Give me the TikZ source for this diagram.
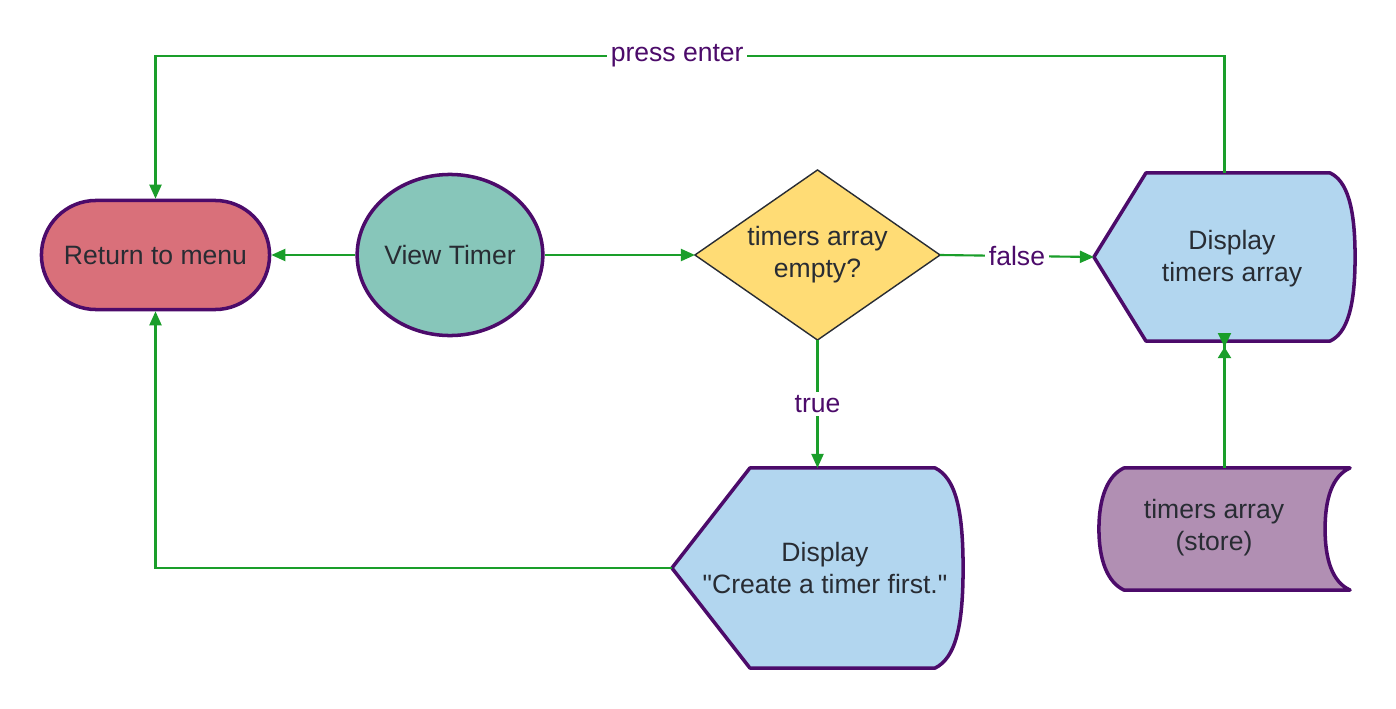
\documentclass[tikz,border=0pt]{standalone}
\usepackage{fontspec}
\setmainfont{Liberation Sans}
\usetikzlibrary{shapes.geometric,arrows.meta,calc,backgrounds}
\definecolor{edgec}{HTML}{4C0B6A}
\definecolor{flowc}{HTML}{1A9E2A}
\definecolor{txtc}{HTML}{282C33}
\definecolor{lblc}{HTML}{4C0B6A}
\definecolor{redf}{HTML}{D9707A}
\definecolor{tealf}{HTML}{87C6BA}
\definecolor{yelf}{HTML}{FFDC75}
\definecolor{bluef}{HTML}{B2D6EF}
\definecolor{purf}{HTML}{B18FB3}
\newcommand\straightdq{\XeTeXglyph\XeTeXcharglyph"22\relax}
\begin{document}
\begin{tikzpicture}[x=0.01cm,y=-0.01cm,
  font=\fontsize{7.55}{9.1}\selectfont,
  outl/.style={draw=edgec,line width=1pt},
  anchorbox/.style={rectangle,inner sep=0pt,outer sep=0pt},
  txtnode/.style={align=center,text=txtc,inner sep=0pt},
  flow/.style={draw=flowc,line width=0.6pt,-{Triangle[length=0.14cm,width=0.12cm]}},
  lbl/.style={fill=white,text=lblc,inner sep=1pt}]
\useasboundingbox (0,0) rectangle (1396,709);

% Return to menu
\node[outl,fill=redf,rectangle,rounded corners=0.545cm,minimum width=2.28cm,minimum height=1.09cm,txtnode] (ret) at (155.5,255) {Return to menu};
% View Timer
\node[outl,fill=tealf,ellipse,minimum width=1.79cm,minimum height=1.61cm,txtnode] (vt) at (450,255) {View Timer};
% decision
\node[anchorbox,minimum width=2.45cm,minimum height=1.7cm] (dia) at (817.5,255) {};
\node[txtnode] (diat) at (817.5,255) {timers array\\empty?};
% Display timers array
\node[anchorbox,minimum width=2.61cm,minimum height=1.68cm] (d1) at (1224.5,257) {};
\node[txtnode] (d1t) at (1232,259) {Display\\timers array};
% Display create
\node[anchorbox,minimum width=2.91cm,minimum height=2.0cm] (d2) at (817.5,568) {};
\node[txtnode] (d2t) at (825,568) {Display\\\straightdq Create a timer first.\straightdq};
% store
\node[anchorbox,minimum width=2.51cm,minimum height=1.22cm] (st) at (1224.5,529) {};
\node[txtnode] (stt) at (1214,528) {timers array\\(store)};

\begin{scope}[on background layer]
  \fill[white] (0,0) rectangle (1396,709);
  \draw[fill=yelf,draw=txtc,line width=0.4pt] (dia.west) -- (dia.north) -- (dia.east) -- (dia.south) -- cycle;
  \draw[outl,fill=bluef,line join=round] (d1.west) -- ($(d1.north west)+(52,0)$) -- ($(d1.north east)+(-25,0)$)
     .. controls ($(d1.north east)+(-8,8)$) and ($(d1.east)+(0,-50)$) .. (d1.east)
     .. controls ($(d1.east)+(0,50)$) and ($(d1.south east)+(-8,-8)$) .. ($(d1.south east)+(-25,0)$)
     -- ($(d1.south west)+(52,0)$) -- cycle;
  \draw[outl,fill=bluef,line join=round] (d2.west) -- ($(d2.north west)+(78,0)$) -- ($(d2.north east)+(-28,0)$)
     .. controls ($(d2.north east)+(-8,10)$) and ($(d2.east)+(0,-60)$) .. (d2.east)
     .. controls ($(d2.east)+(0,60)$) and ($(d2.south east)+(-8,-10)$) .. ($(d2.south east)+(-28,0)$)
     -- ($(d2.south west)+(78,0)$) -- cycle;
  \draw[outl,fill=purf,line join=round] ($(st.north west)+(25,0)$) -- (st.north east)
     .. controls ($(st.north east)+(-18,8)$) and ($(st.east)+(-25,-30)$) .. ($(st.east)+(-25,0)$)
     .. controls ($(st.east)+(-25,30)$) and ($(st.south east)+(-18,-8)$) .. (st.south east)
     -- ($(st.south west)+(25,0)$)
     .. controls ($(st.south west)+(8,-8)$) and ($(st.west)+(0,30)$) .. (st.west)
     .. controls ($(st.west)+(0,-30)$) and ($(st.north west)+(8,8)$) .. cycle;
\end{scope}

% connectors
\draw[flow] (vt.west) -- (ret.east);
\draw[flow] (vt.east) -- (dia.west);
\draw[flow] (dia.east) -- node[lbl] {false} (d1.west);
\draw[flow] (dia.south) -- node[lbl] {true} (d2.north);
\coordinate (topturn) at (1224.5,56);
\draw[flow] (d1.north) -- (topturn) -| node[lbl,pos=0.256] {press enter} (ret.north);
\draw[flow] (d2.west) -| (ret.south);
\draw[draw=flowc,line width=0.6pt,-{Triangle[length=0.11cm,width=0.13cm,sep=0pt] Triangle[reversed,length=0.14cm,width=0.13cm,sep=0pt]}] (st.north) -- ($(d1.south)+(0,-8)$);
\end{tikzpicture}
\end{document}
